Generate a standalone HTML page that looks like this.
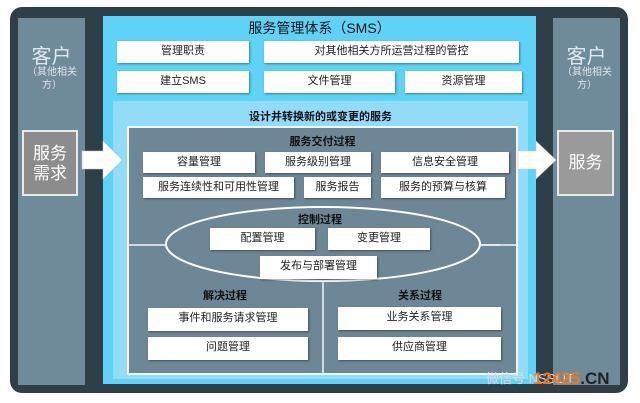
<!DOCTYPE html>
<html><head><meta charset="utf-8"><style>
body{margin:0;width:640px;height:403px;background:#fff;position:relative;overflow:hidden;font-family:"Liberation Sans","Noto Sans CJK SC",sans-serif}
div{position:absolute;box-sizing:border-box}
.b{background:#fff;color:#222;font-size:11px;text-align:center;line-height:21px;box-shadow:1px 1px 2px rgba(0,0,0,.4)}
.t{font-size:11px;font-weight:bold;color:#111;text-align:center}
</style></head><body>
<div style="left:10px;top:7px;width:618px;height:386px;background:#2f3f48;border-radius:12px"></div>
<div style="left:18px;top:18px;width:67px;height:367px;background:#6f8a99"></div>
<div style="left:553px;top:18px;width:67px;height:367px;background:#6f8a99"></div>
<div style="left:18px;top:40px;width:67px;text-align:center;color:#dfe8ee;font-size:20px">客户</div>
<div style="left:22px;top:66px;width:60px;text-align:center;color:#dfe8ee;font-size:10px;line-height:13px">（其他相关方）</div>
<div style="left:553px;top:40px;width:67px;text-align:center;color:#dfe8ee;font-size:20px">客户</div>
<div style="left:557px;top:66px;width:60px;text-align:center;color:#dfe8ee;font-size:10px;line-height:13px">（其他相关方）</div>
<div style="left:22px;top:130px;width:56px;height:66px;background:#8c8c8c;border:2px solid #e8e8e8;color:#fff;font-size:17px;line-height:20px;text-align:center;padding-top:12px">服务<br>需求</div>
<div style="left:557px;top:130px;width:57px;height:66px;background:#9a9a9a;border:2px solid #e8e8e8;color:#fff;font-size:17px;line-height:62px;text-align:center">服务</div>
<div style="left:103px;top:16px;width:433px;height:368px;background:#5fd2f7"></div>
<div style="left:103px;top:18px;width:433px;text-align:center;font-size:14px;color:#111">服务管理体系（SMS）</div>
<div class="b" style="left:117px;top:41px;width:132px;height:22px">管理职责</div>
<div class="b" style="left:264px;top:41px;width:255px;height:22px">对其他相关方所运营过程的管控</div>
<div class="b" style="left:117px;top:71px;width:132px;height:22px">建立SMS</div>
<div class="b" style="left:264px;top:71px;width:131px;height:22px">文件管理</div>
<div class="b" style="left:405px;top:71px;width:117px;height:22px">资源管理</div>
<div style="left:113px;top:101px;width:415px;height:278px;background:#92dcf8"></div>
<div class="t" style="left:113px;top:108px;width:415px">设计并转换新的或变更的服务</div>
<div style="left:127px;top:126px;width:391px;height:249px;background:#6d8796;border:2px solid #f2f6f8"></div>
<div class="t" style="left:127px;top:133px;width:391px">服务交付过程</div>
<div class="b" style="left:143px;top:152px;width:112px;height:21px">容量管理</div>
<div class="b" style="left:265px;top:152px;width:106px;height:21px">服务级别管理</div>
<div class="b" style="left:381px;top:152px;width:128px;height:21px">信息安全管理</div>
<div class="b" style="left:143px;top:177px;width:151px;height:21px">服务连续性和可用性管理</div>
<div class="b" style="left:304px;top:177px;width:67px;height:21px">服务报告</div>
<div class="b" style="left:381px;top:177px;width:124px;height:21px">服务的预算与核算</div>
<svg style="position:absolute;left:0;top:0" width="640" height="403">
<line x1="129" y1="245" x2="500" y2="245" stroke="#f2f6f8" stroke-width="1.5"/>
<line x1="323" y1="275" x2="323" y2="373" stroke="#f2f6f8" stroke-width="1.5"/>
<ellipse cx="323" cy="244" rx="157" ry="37" fill="#6d8796" stroke="#fff" stroke-width="2"/>
<line x1="480" y1="245" x2="517" y2="245" stroke="#f2f6f8" stroke-width="1.5"/>
</svg>
<div class="t" style="left:270px;top:211px;width:100px">控制过程</div>
<div class="b" style="left:210px;top:228px;width:105px;height:22px">配置管理</div>
<div class="b" style="left:328px;top:228px;width:102px;height:22px">变更管理</div>
<div class="b" style="left:260px;top:256px;width:117px;height:23px">发布与部署管理</div>
<div class="t" style="left:175px;top:287px;width:100px">解决过程</div>
<div class="t" style="left:370px;top:287px;width:100px">关系过程</div>
<div class="b" style="left:148px;top:308px;width:160px;height:23px">事件和服务请求管理</div>
<div class="b" style="left:148px;top:337px;width:160px;height:23px">问题管理</div>
<div class="b" style="left:338px;top:307px;width:163px;height:23px">业务关系管理</div>
<div class="b" style="left:338px;top:337px;width:163px;height:23px">供应商管理</div>
<svg style="position:absolute;left:0;top:0" width="640" height="403">
<polygon points="82,151 103,151 103,141 122,160 103,179 103,169 82,169" fill="#fff" stroke="#ccc" stroke-width="0.5"/>
<polygon points="518,151 536,151 536,141 556,160 536,179 536,169 518,169" fill="#fff" stroke="#ccc" stroke-width="0.5"/>
</svg>
<div style="left:486px;top:368px;font-size:13px;color:#d8dde2;white-space:nowrap">微信号 NSSLIT</div>
<div style="left:533px;top:369px;font-size:17px;font-weight:bold;color:#f07a1a;white-space:nowrap">12425<span style="color:#222">.CN</span></div>
</body></html>
